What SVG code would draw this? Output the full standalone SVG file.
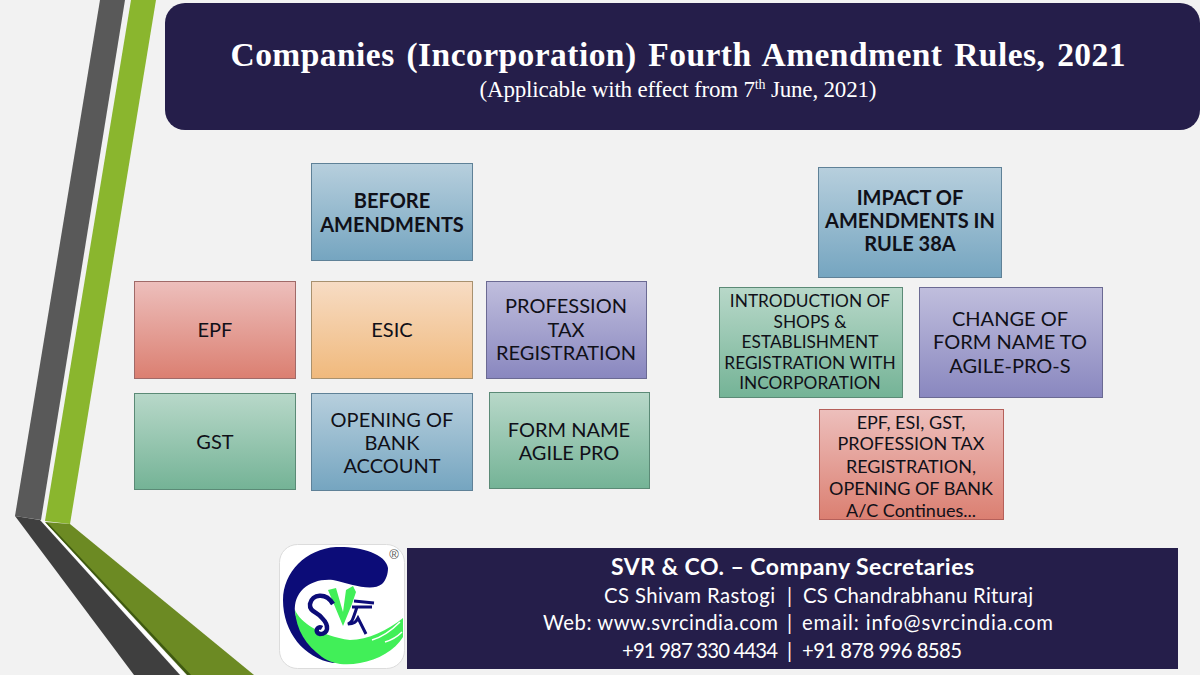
<svg xmlns="http://www.w3.org/2000/svg" width="1200" height="675" viewBox="0 0 1200 675">
<style>
.n{stroke-width:1}
.t{font-family:Lato,"Open Sans",sans-serif;font-size:20px;fill:#101018;text-anchor:middle;transform:translateY(1px)}
.s{font-size:18px}
.r{font-size:17.300px}
.b{font-weight:700}
.h{font-family:"Liberation Serif","Times New Roman",serif;fill:#fff;text-anchor:middle}
.f{font-family:Lato,"Open Sans",sans-serif;font-size:20.300px;fill:#fff}
</style>
<defs>
<linearGradient id="blue" x1="0" y1="0" x2="0" y2="1"><stop offset="0" stop-color="#b7cfdd"/><stop offset="1" stop-color="#75a5c0"/></linearGradient>
<linearGradient id="red" x1="0" y1="0" x2="0" y2="1"><stop offset="0" stop-color="#edbfbc"/><stop offset="1" stop-color="#db7f71"/></linearGradient>
<linearGradient id="org" x1="0" y1="0" x2="0" y2="1"><stop offset="0" stop-color="#f7dcc4"/><stop offset="1" stop-color="#f0b97c"/></linearGradient>
<linearGradient id="pur" x1="0" y1="0" x2="0" y2="1"><stop offset="0" stop-color="#c0bedd"/><stop offset="1" stop-color="#8987bf"/></linearGradient>
<linearGradient id="grn" x1="0" y1="0" x2="0" y2="1"><stop offset="0" stop-color="#b8d8c9"/><stop offset="1" stop-color="#74b396"/></linearGradient>
</defs>
<rect width="1200" height="675" fill="#f2f2f2"/>
<g id="decor">
<polygon points="100,0 125,0 41,520 15,516" fill="#595959"/>
<polygon points="131,0 156,0 70,524 45,521" fill="#8ab62e"/>
<polygon points="15,516 40,520 180,675 134,675" fill="#3f3f3f"/>
<polygon points="45,522 70,524 254,675 190,675" fill="#6c8a23"/>
<polygon points="41,520 45,522 186,675 181,675" fill="#fff"/>
<polygon points="45,522 48,523 191,675 187,675" fill="#3f5a10"/>
</g>
<g id="title">
<rect x="165" y="3" width="1035" height="127" rx="20" fill="#251e4a"/>
<text class="h" x="678" y="66" font-size="33.500" font-weight="700" word-spacing="3" textLength="895" lengthAdjust="spacing">Companies (Incorporation) Fourth Amendment Rules, 2021</text>
<text class="h" x="678" y="97" font-size="23" textLength="397" lengthAdjust="spacing">(Applicable with effect from 7<tspan font-size="14" dy="-8">th</tspan><tspan dy="8"> June, 2021)</tspan></text>
</g>
<g id="node-before"><rect class="n" x="311.500" y="163.500" width="161" height="97" fill="url(#blue)" stroke="#5f8197"/><text class="t b"><tspan x="392" y="207">BEFORE</tspan><tspan x="392" y="231">AMENDMENTS</tspan></text></g>
<g id="node-epf"><rect class="n" x="134.500" y="281.500" width="161" height="97" fill="url(#red)" stroke="#a06a68"/><text class="t" x="215" y="336">EPF</text></g>
<g id="node-esic"><rect class="n" x="311.500" y="281.500" width="161" height="97" fill="url(#org)" stroke="#a8916f"/><text class="t" x="392" y="336">ESIC</text></g>
<g id="node-ptax"><rect class="n" x="486.500" y="281.500" width="160" height="97" fill="url(#pur)" stroke="#6b6a93"/><text class="t"><tspan x="566" y="312">PROFESSION</tspan><tspan x="566" y="336">TAX</tspan><tspan x="566" y="359">REGISTRATION</tspan></text></g>
<g id="node-gst"><rect class="n" x="134.500" y="393.500" width="161" height="96" fill="url(#grn)" stroke="#5b8a76"/><text class="t" x="215" y="448">GST</text></g>
<g id="node-bank"><rect class="n" x="311.500" y="393.500" width="161" height="97" fill="url(#blue)" stroke="#5f8197"/><text class="t"><tspan x="392" y="426">OPENING OF</tspan><tspan x="392" y="449">BANK</tspan><tspan x="392" y="472">ACCOUNT</tspan></text></g>
<g id="node-agile"><rect class="n" x="489.500" y="392.500" width="160" height="96" fill="url(#grn)" stroke="#5b8a76"/><text class="t"><tspan x="569" y="436">FORM NAME</tspan><tspan x="569" y="459">AGILE PRO</tspan></text></g>
<g id="node-impact"><rect class="n" x="818.500" y="167.500" width="183" height="110" fill="url(#blue)" stroke="#5f8197"/><text class="t b"><tspan x="910" y="204">IMPACT OF</tspan><tspan x="910" y="227">AMENDMENTS IN</tspan><tspan x="910" y="250">RULE 38A</tspan></text></g>
<g id="node-shops"><rect class="n" x="719.500" y="287.500" width="183" height="110" fill="url(#grn)" stroke="#5b8a76"/><text class="t r"><tspan x="810" y="306">INTRODUCTION OF</tspan><tspan x="810" y="327">SHOPS &amp;</tspan><tspan x="810" y="347">ESTABLISHMENT</tspan><tspan x="810" y="368">REGISTRATION WITH</tspan><tspan x="810" y="388">INCORPORATION</tspan></text></g>
<g id="node-change"><rect class="n" x="919.500" y="287.500" width="183" height="110" fill="url(#pur)" stroke="#6b6a93"/><text class="t"><tspan x="1010" y="325">CHANGE OF</tspan><tspan x="1010" y="348">FORM NAME TO</tspan><tspan x="1010" y="372">AGILE-PRO-S</tspan></text></g>
<g id="node-continues"><rect class="n" x="819.500" y="409.500" width="184" height="110" fill="url(#red)" stroke="#b5605a"/><text class="t s"><tspan x="911" y="428">EPF, ESI, GST,</tspan><tspan x="911" y="449">PROFESSION TAX</tspan><tspan x="911" y="472">REGISTRATION,</tspan><tspan x="911" y="494">OPENING OF BANK</tspan><tspan x="911" y="516">A/C Continues...</tspan></text></g>
<g id="logo">
<rect x="279.500" y="544.500" width="125" height="124" rx="18" fill="#fff" stroke="#dcdcdc"/>
<path d="M388 568C386 553 358 546 336 547C306 549 283 572 283 600C283 632 304 658 333 663L345 660C320 652 298 632 295 612C293 592 310 578 333 580C350 584 372 592 382 584C386 580 388 574 388 568Z" fill="#0c0c78"/>
<path d="M295 610C300 622 320 636 350 640C368 640 388 630 403 618V637C395 650 378 660 360 663C345 666 332 664 322 657C306 645 296 630 295 610Z" fill="#41ef58"/>
<path d="M372 640C382 637 392 630 400 622M385 642C392 640 398 636 402 632" fill="none" stroke="#fff" stroke-width="1.500"/>
<path d="M328 590L343 626L352 604L356 592L353 586L346 590L343 612L336 588Z" fill="#41ef58"/>
<path d="M333 604C326 592 312 594 310 604C309 612 318 612 322 618C330 626 328 634 320 634C314 633 317 625 322 628" fill="none" stroke="#0c0c78" stroke-width="4.500"/>
<path d="M354 601L374 603M352 607L372 607M357 607C352 622 352 622 348 624C354 624 356 622 358 618L366 634" fill="none" stroke="#0c0c78" stroke-width="3"/>
<text x="394" y="559" font-family="Liberation Sans,sans-serif" font-size="13" fill="#555" text-anchor="middle">®</text>
</g>
<g id="footer">
<rect x="407" y="548" width="771" height="121" fill="#251e4a"/>
<text class="f b" x="611" y="575" style="font-size:23px" textLength="363">SVR &amp; CO. – Company Secretaries</text>
<text class="f" y="603"><tspan x="604" textLength="171">CS Shivam Rastogi</tspan><tspan x="787">|</tspan><tspan x="803" textLength="230">CS Chandrabhanu Rituraj</tspan></text>
<text class="f" y="630"><tspan x="543" textLength="235">Web: www.svrcindia.com</tspan><tspan x="787">|</tspan><tspan x="802" textLength="251">email: info@svrcindia.com</tspan></text>
<text class="f" y="658"><tspan x="622" textLength="156">+91 987 330 4434</tspan><tspan x="787">|</tspan><tspan x="802" textLength="160">+91 878 996 8585</tspan></text>
</g>
</svg>
